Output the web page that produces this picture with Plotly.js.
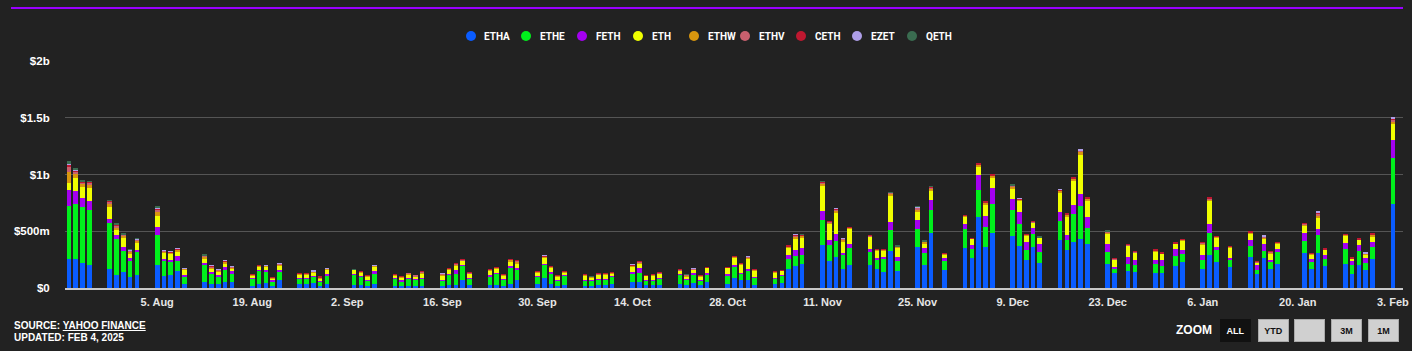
<!DOCTYPE html>
<html>
<head>
<meta charset="utf-8">
<script src="https://cdn.plot.ly/plotly-3.0.1.min.js"></script>
<style>
  html, body { margin: 0; padding: 0; background: #222222; }
  #chart { width: 1412px; height: 351px; }
</style>
</head>
<body>
<div id="chart"></div>
<script>
// Trading days (ETH ETF launch to 3 Feb 2025)
const dates = [
  '2024-07-23','2024-07-24','2024-07-25','2024-07-26','2024-07-29','2024-07-30','2024-07-31',
  '2024-08-01','2024-08-02','2024-08-05','2024-08-06','2024-08-07','2024-08-08','2024-08-09',
  '2024-08-12','2024-08-13','2024-08-14','2024-08-15','2024-08-16','2024-08-19','2024-08-20',
  '2024-08-21','2024-08-22','2024-08-23','2024-08-26','2024-08-27','2024-08-28','2024-08-29','2024-08-30',
  '2024-09-03','2024-09-04','2024-09-05','2024-09-06','2024-09-09','2024-09-10','2024-09-11',
  '2024-09-12','2024-09-13','2024-09-16','2024-09-17','2024-09-18','2024-09-19','2024-09-20',
  '2024-09-23','2024-09-24','2024-09-25','2024-09-26','2024-09-27','2024-09-30',
  '2024-10-01','2024-10-02','2024-10-03','2024-10-04','2024-10-07','2024-10-08','2024-10-09',
  '2024-10-10','2024-10-11','2024-10-14','2024-10-15','2024-10-16','2024-10-17','2024-10-18',
  '2024-10-21','2024-10-22','2024-10-23','2024-10-24','2024-10-25','2024-10-28','2024-10-29',
  '2024-10-30','2024-10-31',
  '2024-11-01','2024-11-04','2024-11-05','2024-11-06','2024-11-07','2024-11-08','2024-11-11',
  '2024-11-12','2024-11-13','2024-11-14','2024-11-15','2024-11-18','2024-11-19','2024-11-20',
  '2024-11-21','2024-11-22','2024-11-25','2024-11-26','2024-11-27','2024-11-29',
  '2024-12-02','2024-12-03','2024-12-04','2024-12-05','2024-12-06','2024-12-09','2024-12-10',
  '2024-12-11','2024-12-12','2024-12-13','2024-12-16','2024-12-17','2024-12-18','2024-12-19',
  '2024-12-20','2024-12-23','2024-12-24','2024-12-26','2024-12-27','2024-12-30','2024-12-31',
  '2025-01-02','2025-01-03','2025-01-06','2025-01-07','2025-01-08','2025-01-10','2025-01-13',
  '2025-01-14','2025-01-15','2025-01-16','2025-01-17','2025-01-21','2025-01-22','2025-01-23',
  '2025-01-24','2025-01-27','2025-01-28','2025-01-29','2025-01-30','2025-01-31',
  '2025-02-03'
];

// Daily trading volume per fund, in millions of US$
const ETHA = [254,254,219,205,167,117,137,
  94,117,205,102,117,152,35,50,35,35,50,50,15,35,44,15,67,38,38,47,18,38,
  29,29,21,38,21,15,21,15,21,21,29,29,74,29,29,29,21,38,74,38,
  88,38,21,29,18,18,24,26,38,53,53,24,24,29,38,24,47,24,53,38,91,68,68,
  24,38,44,171,194,215,382,235,273,171,203,203,171,141,326,150,362,203,485,162,
  356,265,626,362,488,459,370,247,365,221,426,338,409,435,391,215,132,150,144,135,132,
  190,225,164,289,225,184,272,120,260,170,208,307,170,307,190,211,123,202,155,254,
  737];
const ETHE = [471,489,497,482,409,313,190,
  140,196,263,132,108,82,59,155,91,67,117,82,70,120,93,43,70,44,44,50,41,71,
  92,68,47,88,61,44,61,64,67,47,89,97,123,53,74,97,55,141,82,59,
  118,94,47,80,50,50,55,53,65,73,82,44,44,53,80,50,71,44,65,74,94,58,82,
  67,44,68,88,91,79,221,144,142,123,153,117,82,112,183,88,158,109,206,76,
  164,79,241,176,256,229,195,91,111,99,168,88,247,288,141,105,36,65,59,80,61,
  88,73,82,199,108,59,102,38,70,64,105,105,58,158,64,131,79,128,64,111,
  409];
const FETH = [137,111,79,79,32,38,30,
  29,23,67,23,24,44,23,14,17,12,17,14,6,6,24,9,18,6,3,9,9,17,
  5,6,3,21,3,9,3,3,3,6,8,36,6,9,9,6,6,12,23,6,
  9,9,6,6,3,6,3,3,6,15,44,6,3,6,3,3,14,6,14,14,15,6,21,
  6,6,3,29,53,62,73,47,64,15,35,24,15,20,73,35,83,41,88,27,
  47,35,127,100,138,94,105,71,53,71,79,41,76,106,94,68,14,58,44,29,56,
  64,41,43,79,24,23,53,41,62,15,35,76,29,58,35,53,32,50,41,44,
  158];
const ETH = [65,111,97,117,108,44,82,
  44,65,102,56,52,47,44,44,32,35,35,29,23,29,26,18,41,33,33,32,17,36,
  36,35,32,38,27,23,36,21,35,38,36,35,35,35,44,44,30,44,41,35,
  53,38,29,23,38,17,36,36,17,44,36,32,38,38,29,26,30,29,47,53,68,74,88,
  59,47,35,65,97,85,221,141,185,103,132,106,64,59,235,80,67,38,77,32,
  59,53,79,100,91,94,97,53,47,50,168,165,212,347,147,91,68,100,65,79,52,
  47,76,97,196,85,88,55,29,47,58,41,59,38,97,47,64,23,44,35,44,
  143];
const ETHW = [99,38,29,32,30,20,20,
  15,17,30,10,12,12,9,12,9,8,12,8,6,4,10,6,12,3,8,8,9,7,
  2,6,6,9,6,9,4,2,12,9,9,14,8,6,6,6,6,12,15,6,
  10,8,6,6,6,8,5,8,8,12,12,4,9,6,8,9,4,6,4,4,6,8,12,
  6,8,4,12,18,18,26,12,18,14,8,8,6,4,14,10,24,15,24,4,
  9,4,12,12,15,18,12,5,5,5,14,14,18,24,14,14,5,5,4,8,5,
  5,9,10,18,8,8,8,1,8,10,8,12,6,18,5,8,5,5,6,14,
  20];
const ETHV = [47,26,12,14,15,18,10,
  8,8,25,4,3,5,3,8,7,2,5,2,2,1,3,2,5,1,2,2,2,2,
  1,2,2,3,2,2,1,1,4,3,3,4,2,2,2,2,2,4,6,2,
  3,3,2,2,2,2,2,2,3,4,4,1,2,2,2,3,2,2,1,1,2,2,3,
  2,2,1,4,8,6,8,4,8,6,2,4,2,1,6,4,12,4,8,1,
  3,1,6,4,6,6,4,2,2,2,5,5,6,10,5,5,2,2,2,3,2,
  2,3,4,8,3,3,3,1,3,4,4,5,3,20,2,4,2,2,2,5,
  15];
const CETH = [15,10,6,6,6,7,4,
  3,4,10,2,2,2,1,3,3,1,2,1,1,1,1,1,2,1,1,1,1,1,
  0,1,1,2,1,1,0,0,2,2,2,3,2,1,1,1,1,2,3,1,
  2,1,1,1,1,1,1,1,1,2,4,1,1,1,2,1,1,1,1,1,3,2,2,
  1,2,1,4,6,4,6,5,6,3,2,3,1,1,5,3,6,3,6,1,
  3,1,6,5,6,4,3,1,2,1,4,5,5,4,5,3,2,2,2,4,2,
  2,3,4,9,3,3,4,1,2,4,3,6,3,6,2,3,2,2,0,5,
  6];
const EZET = [12,6,3,4,4,4,2,
  2,2,5,1,1,1,1,2,2,1,2,1,0,0,1,0,4,0,0,1,0,4,
  0,0,0,1,0,0,0,0,0,3,0,0,0,0,0,0,0,0,0,0,
  5,0,0,0,0,0,0,0,0,3,0,0,0,0,0,0,4,0,0,0,0,0,3,
  0,0,0,0,3,0,0,0,4,5,0,0,0,0,0,0,2,0,0,0,
  0,0,0,0,0,3,5,0,0,0,3,0,0,6,0,0,0,0,0,0,0,
  0,0,0,0,0,0,0,0,7,0,0,0,0,6,0,0,0,0,7,0,
  18];
const QETH = [15,8,3,3,4,3,2,
  1,1,15,0,0,0,0,4,0,0,0,0,0,0,0,0,0,0,0,0,0,0,
  2,0,0,0,0,0,0,0,0,0,0,0,0,0,0,0,0,0,0,0,
  0,0,0,0,0,1,0,0,0,0,0,0,0,0,0,2,0,0,0,0,0,0,0,
  0,0,0,0,0,4,4,0,0,0,0,0,0,0,2,3,6,2,3,0,
  0,0,0,0,0,4,0,0,0,1,0,0,0,0,0,5,0,0,0,0,0,
  0,0,0,0,0,0,0,0,0,0,0,0,0,0,0,0,0,0,0,0,
  0];

const fundNames = ['ETHA','ETHE','FETH','ETH','ETHW','ETHV','CETH','EZET','QETH'];
const fundValues = [ETHA, ETHE, FETH, ETH, ETHW, ETHV, CETH, EZET, QETH];
const fundColors = ['#0a5cff','#00f01c','#a400f0','#f0ff00','#d8960e','#c8606e','#be1830','#ae9ee8','#3a6c50'];

const xTickVals = ['2024-08-05','2024-08-19','2024-09-02','2024-09-16','2024-09-30','2024-10-14',
  '2024-10-28','2024-11-11','2024-11-25','2024-12-09','2024-12-23','2025-01-06','2025-01-20','2025-02-03'];
const xTickText = ['5. Aug','19. Aug','2. Sep','16. Sep','30. Sep','14. Oct','28. Oct','11. Nov',
  '25. Nov','9. Dec','23. Dec','6. Jan','20. Jan','3. Feb'];
const yTickVals = [0, 500, 1000, 1500, 2000];
const yTickText = ['$0','$500m','$1b','$1.5b','$2b'];

const FONT = '"Liberation Sans", Arial, sans-serif';
const LEGEND_FONT = 'Roboto, "Liberation Sans", Arial, sans-serif';
const DAY = 86400000;

const traces = fundNames.map((name, i) => ({
  type: 'bar', name: name, x: dates, y: fundValues[i],
  width: dates.map(() => 0.68 * DAY),
  marker: { color: fundColors[i], line: { width: 0 } },
  showlegend: false,
  hovertemplate: name + ': $%{y}m<extra></extra>'
}));

// pixel -> paper helpers for decorations
const M = { l: 65, r: 9, t: 61, b: 63 };
const PW = 1412 - M.l - M.r, PH = 351 - M.t - M.b;
const px = v => (v - M.l) / PW;
const py = v => (351 - M.b - v) / PH;

// Legend layout (circle centres, pixels) – drawn as shapes + text
const legendCircleX = [471, 526, 582, 638, 694, 745, 801, 857, 912];
const legendY = 36, legendR = 5, legendTextGap = 11.5;

const shapes = [
  { type: 'line', xref: 'paper', yref: 'paper', x0: px(11), x1: px(1403), y0: py(8), y1: py(8),
    line: { color: '#9a00ff', width: 2 } }
];
const annotations = [];
fundNames.forEach((name, i) => {
  const c = legendCircleX[i];
  shapes.push({ type: 'circle', xref: 'paper', yref: 'paper',
    x0: px(c - legendR), x1: px(c + legendR), y0: py(legendY + legendR), y1: py(legendY - legendR),
    fillcolor: fundColors[i], line: { width: 0 } });
  annotations.push({ text: '<b>' + name + '</b>', xref: 'paper', yref: 'paper',
    x: px(c + legendTextGap), y: py(legendY), xanchor: 'left', yanchor: 'middle', showarrow: false,
    font: { family: LEGEND_FONT, size: 10, color: '#ffffff' } });
});

const buttons = [
  { t: 'ALL', c: 1235.5, bg: '#111111', fc: '#ffffff', bc: '#111111' },
  { t: 'YTD', c: 1273, bg: '#d0d0d0', fc: '#111111', bc: '#aaaaaa' },
  { t: ' ',   c: 1309.5, bg: '#d0d0d0', fc: '#111111', bc: '#aaaaaa' },
  { t: '3M',  c: 1346, bg: '#d0d0d0', fc: '#111111', bc: '#aaaaaa' },
  { t: '1M',  c: 1383, bg: '#d0d0d0', fc: '#111111', bc: '#aaaaaa' }
];

annotations.push(
  { text: '<b>SOURCE: <u>YAHOO FINANCE</u></b>', xref: 'paper', yref: 'paper', x: px(12), y: py(325),
    xanchor: 'left', yanchor: 'middle', showarrow: false, font: { family: FONT, size: 10, color: '#ffffff' } },
  { text: '<b>UPDATED: FEB 4, 2025</b>', xref: 'paper', yref: 'paper', x: px(12), y: py(337),
    xanchor: 'left', yanchor: 'middle', showarrow: false, font: { family: FONT, size: 10, color: '#ffffff' } },
  { text: '<b>ZOOM</b>', xref: 'paper', yref: 'paper', x: px(1214), y: py(330),
    xanchor: 'right', yanchor: 'middle', showarrow: false, font: { family: FONT, size: 12, color: '#ffffff' } }
);
buttons.forEach(b => annotations.push({
  text: '<b>' + b.t + '</b>', xref: 'paper', yref: 'paper', x: px(b.c), y: py(330.5),
  xanchor: 'center', yanchor: 'middle', showarrow: false, width: 29, height: 21, borderpad: 0,
  bgcolor: b.bg, bordercolor: b.bc, borderwidth: 1, font: { family: FONT, size: 9, color: b.fc }
}));

const layout = {
  width: 1412, height: 351,
  paper_bgcolor: '#222222', plot_bgcolor: '#222222',
  margin: M,
  barmode: 'stack',
  showlegend: false,
  xaxis: {
    type: 'date', range: ['2024-07-22 10:00', '2025-02-04 12:00'],
    tickvals: xTickVals, ticktext: xTickText,
    tickfont: { family: FONT, size: 11, color: '#e6e6e6', weight: 'bold' },
    ticks: 'outside', ticklen: 3, tickcolor: 'rgba(0,0,0,0)',
    showgrid: false, showline: true, linecolor: '#c8c8c8', linewidth: 2,
    zeroline: false, fixedrange: true
  },
  yaxis: {
    range: [0, 2000], tickvals: yTickVals, ticktext: yTickText,
    tickfont: { family: FONT, size: 11.5, color: '#ffffff', weight: 'bold' },
    ticks: 'outside', ticklen: 12, tickcolor: 'rgba(0,0,0,0)',
    showgrid: true, gridcolor: '#555555', gridwidth: 1,
    zeroline: false, showline: false, fixedrange: true
  },
  shapes: shapes,
  annotations: annotations
};

Plotly.newPlot('chart', traces, layout, { displayModeBar: false, responsive: false });
</script>
</body>
</html>
